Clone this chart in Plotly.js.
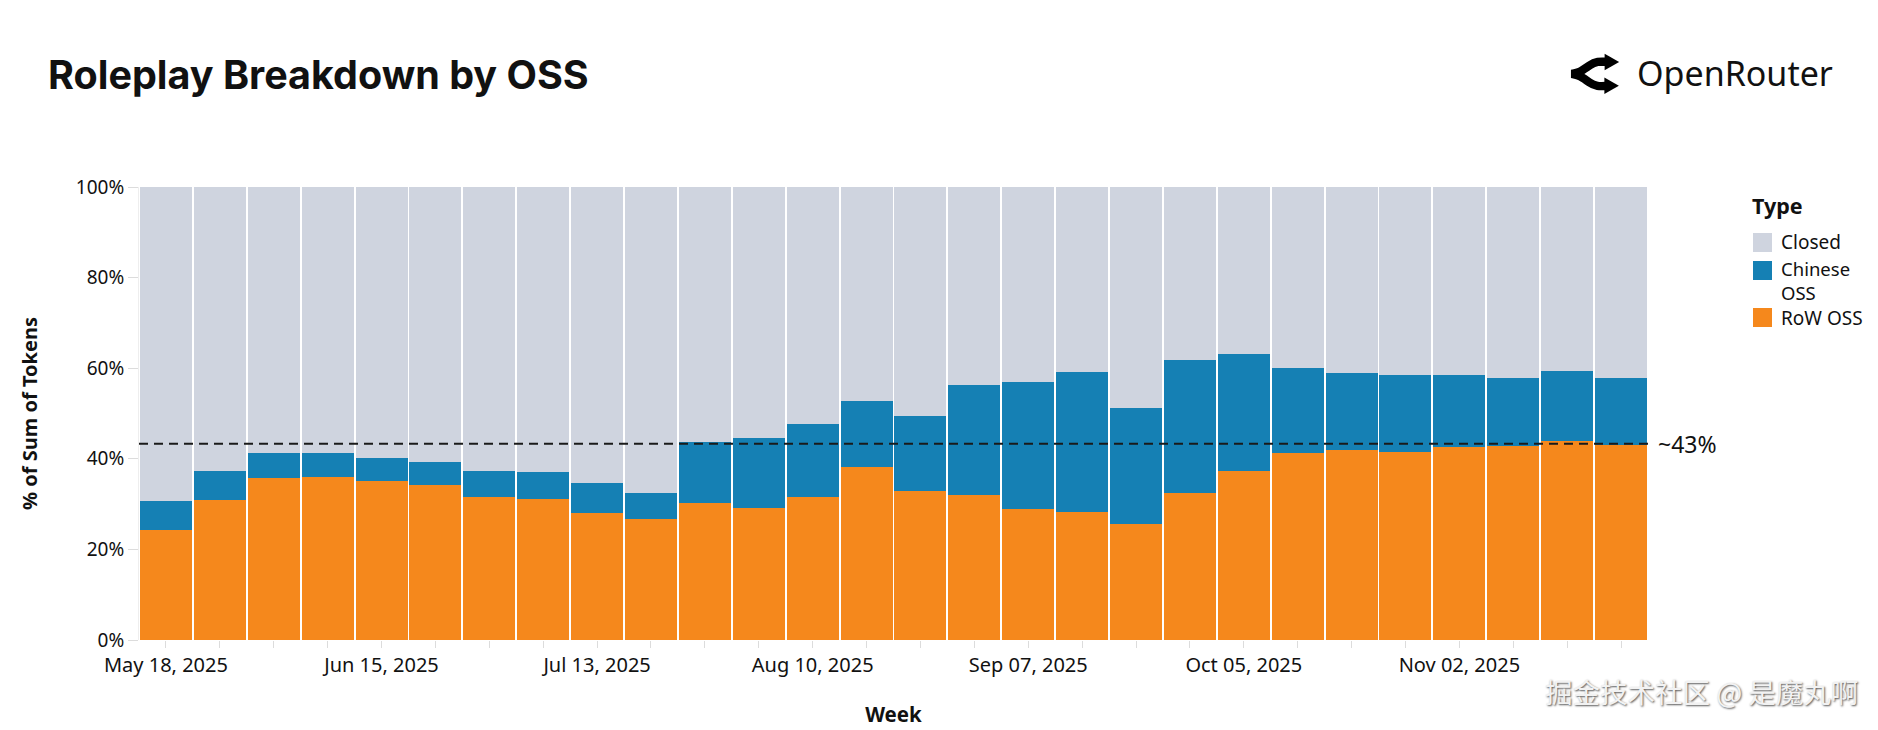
<!DOCTYPE html>
<html>
<head>
<meta charset="utf-8">
<script src="https://cdn.plot.ly/plotly-3.0.1.min.js"></script>
<style>html,body{margin:0;padding:0;background:#fff;}#chart{width:1878px;height:730px;}</style>
</head>
<body>
<div id="chart"></div>
<script>
// ---- data ----
const weeks = ["2025-05-18","2025-05-25","2025-06-01","2025-06-08","2025-06-15","2025-06-22","2025-06-29",
  "2025-07-06","2025-07-13","2025-07-20","2025-07-27","2025-08-03","2025-08-10","2025-08-17",
  "2025-08-24","2025-08-31","2025-09-07","2025-09-14","2025-09-21","2025-09-28","2025-10-05",
  "2025-10-12","2025-10-19","2025-10-26","2025-11-02","2025-11-09","2025-11-16","2025-11-23"];
const rowOss     = [24.3,31.0,35.8,35.9,35.1,34.3,31.6,31.2,28.1,26.7,30.3,29.2,31.6,38.2,33.0,32.1,28.9,28.2,25.6,32.5,37.3,41.3,41.9,41.5,42.7,42.9,43.9,43.0];
const chineseOss = [ 6.4, 6.2, 5.4, 5.4, 5.0, 5.0, 5.8, 5.8, 6.5, 5.8,13.3,15.3,16.0,14.5,16.5,24.3,28.1,30.9,25.7,29.4,25.8,18.8,17.0,16.9,15.9,15.0,15.4,14.8];
const closed     = [69.3,62.8,58.8,58.7,59.9,60.7,62.6,63.0,65.4,67.5,56.4,55.5,52.4,47.3,50.5,43.6,43.0,40.9,48.7,38.1,36.9,39.9,41.1,41.6,41.4,42.1,40.7,42.2];
const refLevel = 43.3;
const refLabel = "~43%";
const yTickVals = [0,20,40,60,80,100];
const yTickText = ["0%","20%","40%","60%","80%","100%"];
const legendTitle = "Type";
const legendLabels = ["Closed", "Chinese<br>OSS", "RoW OSS"];
const legendColors = ["#cfd4df", "#1580b4", "#f5881c"];

const FONT = "'Noto Sans', 'Open Sans', sans-serif";
const COLORS = {row:"#f5881c", chinese:"#1580b4", closed:"#cfd4df"};

const traces = [
  {type:"bar", name:"RoW OSS", x:weeks, y:rowOss, marker:{color:COLORS.row, line:{width:0}}},
  {type:"bar", name:"Chinese OSS", x:weeks, y:chineseOss, marker:{color:COLORS.chinese, line:{width:0}}},
  {type:"bar", name:"Closed", x:weeks, y:closed, marker:{color:COLORS.closed, line:{width:0}}}
];

// ---- geometry helpers (pixel -> paper) ----
const W = 1878, H = 730;
const M = {l:139, r:230, t:187, b:90};
const PW = W - M.l - M.r, PH = H - M.t - M.b;
const px = X => (X - M.l) / PW;
const py = Y => (H - M.b - Y) / PH;

const logoSvg = '<svg xmlns="http://www.w3.org/2000/svg" viewBox="-10 25 530 450">' +
  '<path d="M3 248.9C18 248.9 76 236 106 219C136 202 136 202 198 158C276.5 102.3 332 120.9 423 120.9" stroke="#000" stroke-width="90" fill="none"/>' +
  '<path d="M511 121.5L357.25 210.3L357.25 32.7Z" fill="#000"/>' +
  '<path d="M0 249C15 249 73 261.9 103 278.9C133 295.9 133 295.9 195 339.9C273.5 395.7 329 377 420 377" stroke="#000" stroke-width="90" fill="none"/>' +
  '<path d="M508 376.4L354.25 287.7L354.25 465.2Z" fill="#000"/>' +
  '</svg>';

// custom legend (reference swatch size / spacing)
const swatchRows = [[233,252],[261,280],[308,327]];
const labelCenters = [242, 280, 318];
const legendShapes = legendColors.map((c,i) => ({
  type:"rect", xref:"paper", yref:"paper", x0:px(1753), x1:px(1772),
  y0:py(swatchRows[i][1]), y1:py(swatchRows[i][0]), fillcolor:c, line:{width:0}
}));
const legendAnns = [{text:legendTitle, xref:"paper", yref:"paper", x:px(1750), y:py(205), xanchor:"left", yanchor:"middle",
  showarrow:false, font:{family:FONT, size:21.5, weight:700, color:"#111"}}];
legendLabels.forEach((t,i) => legendAnns.push({
  text:t, xref:"paper", yref:"paper", x:px(1779), y:py(labelCenters[i]), xanchor:"left", yanchor:"middle", align:"left",
  showarrow:false, font:{family:FONT, size:i===1 ? 18.5 : 19, color:"#111"}
}));

const layout = {
  width:W, height:H,
  margin:M,
  paper_bgcolor:"#fff", plot_bgcolor:"#fff",
  font:{family:FONT, color:"#111", size:19},
  barmode:"stack", bargap:0.035, showlegend:false,
  title:{text:"Roleplay Breakdown by OSS", x:48/W, xref:"container", xanchor:"left",
         y:1-75/H, yref:"container", yanchor:"middle",
         font:{family:"Inter, 'Noto Sans', sans-serif", size:39.5, weight:700, color:"#111"}},
  xaxis:{type:"date", range:["2025-05-14 12:00","2025-11-26 12:00"],
         tick0:"2025-05-18", dtick:28*86400000, tickformat:"%b %d, %Y",
         ticks:"outside", ticklen:7, tickcolor:"#dcdcdc", tickwidth:1,
         minor:{dtick:7*86400000, tick0:"2025-05-18", ticks:"outside", ticklen:7, tickcolor:"#dcdcdc", showgrid:false},
         showgrid:false, zeroline:false, showline:false,
         tickfont:{family:FONT, size:20, color:"#111"},
         title:{text:"Week", standoff:30, font:{family:FONT, size:20.5, weight:700, color:"#111"}}},
  yaxis:{range:[0,100], tickvals:yTickVals, ticktext:yTickText,
         ticks:"outside", ticklen:10, tickcolor:"#dcdcdc", tickwidth:1,
         showgrid:false, zeroline:false, showline:true, linecolor:"#eeeeee", linewidth:1,
         tickfont:{family:FONT, size:19, color:"#111"},
         title:{text:"% of Sum of Tokens", standoff:32, font:{family:FONT, size:20, weight:700, color:"#111"}}},
  shapes:[{type:"line", xref:"paper", x0:0, x1:1, yref:"y", y0:refLevel, y1:refLevel,
           line:{color:"#1a1a1a", width:2, dash:"9px,6px"}, layer:"above"}].concat(legendShapes),
  annotations:[
    {text:refLabel, xref:"paper", x:1, xanchor:"left", xshift:8, yref:"y", y:refLevel, yanchor:"middle",
     showarrow:false, font:{family:FONT, size:23, color:"#111"}},
    {text:"OpenRouter", xref:"paper", x:px(1635), xanchor:"left", yref:"paper", y:py(73), yanchor:"middle",
     showarrow:false, font:{family:FONT, size:34, color:"#111"}},
    {text:"掘金技术社区 @ 是魔丸啊", xref:"paper", x:px(1860), xanchor:"right", yref:"paper", y:py(691), yanchor:"middle",
     showarrow:false, font:{family:"'Noto Sans CJK SC', sans-serif", size:27.5, color:"#f2f2f2", shadow:"1px 1px 2px #555"}}
  ].concat(legendAnns),
  images:[{source:"data:image/svg+xml;charset=utf-8,"+encodeURIComponent(logoSvg),
           xref:"paper", yref:"paper", x:px(1570), y:py(53), sizex:50/PW, sizey:42/PH,
           xanchor:"left", yanchor:"top", sizing:"stretch", layer:"above"}]
};

Plotly.newPlot("chart", traces, layout, {displayModeBar:false, staticPlot:true});
</script>
</body>
</html>
